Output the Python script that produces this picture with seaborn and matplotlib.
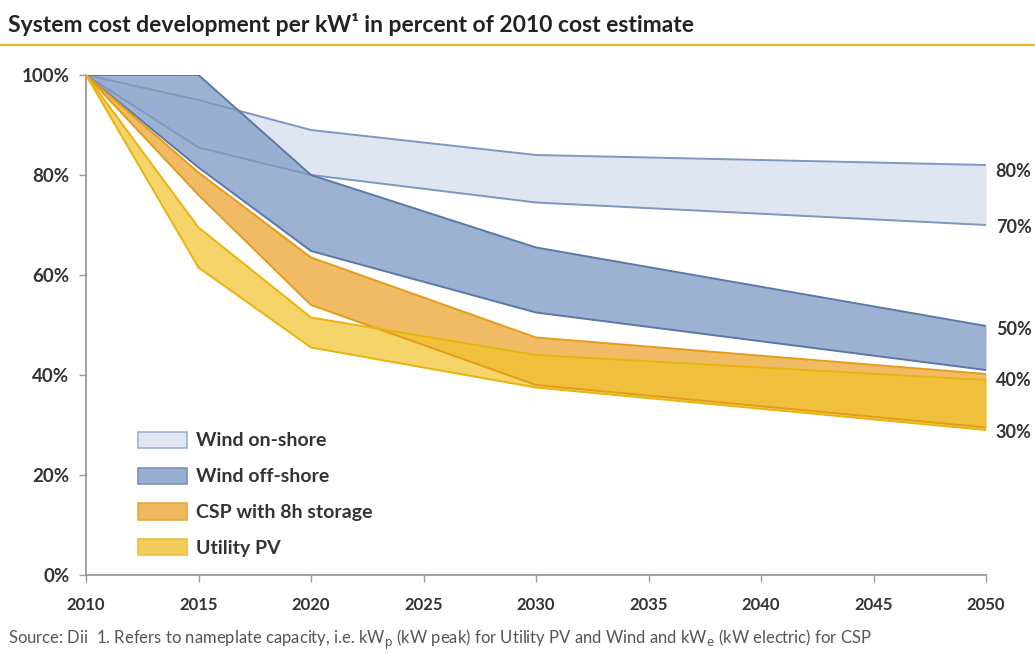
import matplotlib
matplotlib.use("Agg")
import matplotlib.pyplot as plt
from matplotlib.patches import Patch
from matplotlib.lines import Line2D
import seaborn as sns
import pandas as pd

# Years on the horizontal axis
years = [2010, 2015, 2020, 2030, 2050]

# Upper / lower bounds of each technology's cost range (% of 2010 cost)
onshore_high = [100, 95.0, 89.0, 84.0, 82.0]
onshore_low = [100, 85.5, 80.0, 74.5, 70.0]
offshore_high = [100, 100, 80.0, 65.5, 49.8]
offshore_low = [100, 81.5, 64.8, 52.5, 41.0]
csp_high = [100, 80.5, 63.5, 47.5, 40.2]
csp_low = [100, 76.0, 54.0, 38.0, 29.5]
pv_high = [100, 69.5, 51.5, 44.0, 39.0]
pv_low = [100, 61.5, 45.5, 37.5, 29.0]

series_names = ["Wind on-shore", "Wind off-shore", "CSP with 8h storage", "Utility PV"]

# End-of-range labels on the right
end_labels = ["80%", "70%", "50%", "40%", "30%"]
end_label_pos = [80.6, 69.4, 49.0, 39.0, 28.4]

x_ticks = [2010, 2015, 2020, 2025, 2030, 2035, 2040, 2045, 2050]
y_ticks = [0, 20, 40, 60, 80, 100]

sns.set_style("ticks")
plt.rcParams["font.family"] = ["Lato", "DejaVu Sans"]

fig = plt.figure(figsize=(10.35, 6.53), dpi=100)
ax = fig.add_axes([86 / 1035, 78 / 653, 900 / 1035, 500 / 653])

bands = [
    (onshore_high, onshore_low, "#dfe6f2", "#7d97c0", 1.0),
    (offshore_high, offshore_low, "#90a8cd", "#5a78a8", 0.88),
    (csp_high, csp_low, "#eb9f22", "#e39c16", 0.7),
    (pv_high, pv_low, "#f1c22a", "#e9b30e", 0.7),
]

for name, (hi, lo, face, edge, alpha) in zip(series_names, bands):
    ax.fill_between(years, lo, hi, color=face, alpha=alpha, lw=0, zorder=2)
    df = pd.DataFrame({"year": years * 2,
                       "value": hi + lo,
                       "bound": ["high"] * len(years) + ["low"] * len(years)})
    sns.lineplot(data=df, x="year", y="value", units="bound", estimator=None,
                 color=edge, lw=1.4, ax=ax, zorder=3, legend=False)

ax.set_xlim(2010, 2050)
ax.set_ylim(0, 100)
ax.set_xticks(x_ticks)
ax.set_yticks(y_ticks)
ax.set_yticklabels([f"{v}%" for v in y_ticks])
ax.set_xlabel("")
ax.set_ylabel("")
ax.tick_params(axis="both", colors="#9a9a9a", labelcolor="#333333",
               length=5, width=1)
ax.tick_params(axis="x", pad=11, labelsize=12)
ax.tick_params(axis="y", pad=7, labelsize=13.5)
for lab in ax.get_xticklabels() + ax.get_yticklabels():
    lab.set_fontweight("bold")
sns.despine(ax=ax)
for side in ("left", "bottom"):
    ax.spines[side].set_color("#9a9a9a")
    ax.spines[side].set_linewidth(1.3)

for txt, yv in zip(end_labels, end_label_pos):
    ax.annotate(txt, xy=(2050, yv), xytext=(7, 0), textcoords="offset points",
                ha="left", va="center", fontsize=13, fontweight="bold",
                color="#333333", annotation_clip=False)

handles = [
    Patch(facecolor="#dfe6f2", edgecolor="#9fb2d0", lw=1.2),
    Patch(facecolor="#97aed2", edgecolor="#7a93bd", lw=1.2),
    Patch(facecolor="#f0b660", edgecolor="#e8a83a", lw=1.2),
    Patch(facecolor="#f4cc5a", edgecolor="#ebbf3c", lw=1.2),
]
leg = ax.legend(handles, series_names, loc="upper left",
                bbox_to_anchor=(0.047, 0.306), frameon=False, borderpad=0,
                prop={"size": 14, "weight": "bold"},
                handlelength=2.5, handleheight=0.9, labelspacing=0.93,
                handletextpad=0.5)
for t in leg.get_texts():
    t.set_color("#333333")

fig.text(8 / 1035, 1 - 24 / 653,
         "System cost development per kW\u00b9 in percent of 2010 cost estimate",
         ha="left", va="center", fontsize=16.5, fontweight="bold", color="#222222")
fig.add_artist(Line2D([0, 1], [1 - 45 / 653, 1 - 45 / 653],
                      transform=fig.transFigure, color="#e8b828", lw=1.6))
fig.text(8 / 1035, 1 - 640 / 653,
         "Source: Dii  1. Refers to nameplate capacity, i.e. kW$_{\\rm p}$ (kW peak) "
         "for Utility PV and Wind and kW$_{\\rm e}$ (kW electric) for CSP",
         ha="left", va="center", fontsize=12, color="#555555")

fig.savefig("out.png", dpi=100)
